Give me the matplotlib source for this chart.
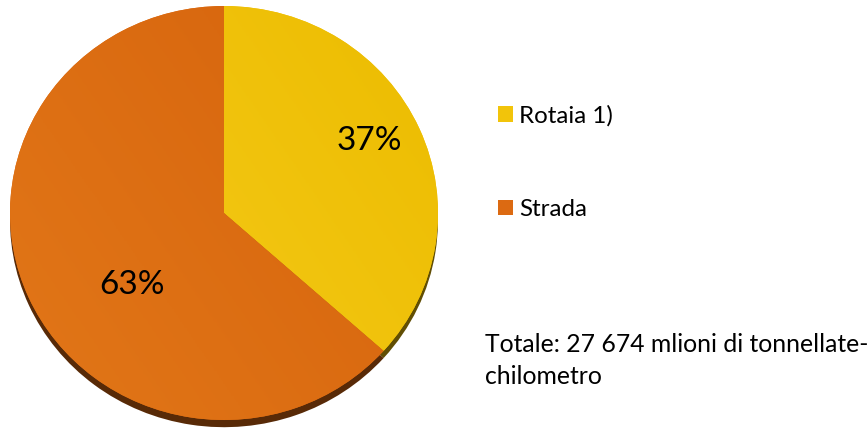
import numpy as np
import matplotlib
matplotlib.use("Agg")
import matplotlib.pyplot as plt
from matplotlib.colors import LinearSegmentedColormap

plt.rcParams['font.family'] = ['Lato', 'DejaVu Sans']

# data
categories = ["Rotaia 1)", "Strada"]
shares = [36.6, 63.4]
colors = ["#F2C40A", "#DC6A12"]
grad_light = ["#F7CD1F", "#E27718"]
grad_dark = ["#ECBC00", "#D5620C"]
total_note = "Totale: 27 674 mlioni di tonnellate-\nchilometro"

W, H = 867, 432
fig = plt.figure(figsize=(W / 100, H / 100), dpi=100)
ax = fig.add_axes([0, 0, 1, 1])

# pie centre / radii in pixels
cx, cy = 224, 432 - 213
rx, ry = 214, 207

wedges, texts, autotexts = ax.pie(
    shares, colors=colors, startangle=90, counterclock=False,
    autopct='%.0f%%', pctdistance=0.7,
    shadow={'ox': 0, 'oy': -0.025, 'shade': 0.6, 'alpha': 1},
    textprops={'fontsize': 24, 'color': 'black'},
    wedgeprops={'linewidth': 0})

ax.set_aspect('auto')
ax.axis('off')

# soft gradient inside each slice
gx = np.linspace(0, 1, 200)
grad = (gx[None, :] * 0.6 + gx[::-1, None] * 0.4)
for w, c0, c1 in zip(wedges, grad_light, grad_dark):
    cmap = LinearSegmentedColormap.from_list("g", [c0, c1])
    im = ax.imshow(grad, cmap=cmap, extent=(-1, 1, -1, 1), origin='upper',
                   aspect='auto', zorder=1.5, interpolation='bilinear')
    im.set_clip_path(w)

ax.set_xlim(-cx / rx, (W - cx) / rx)
ax.set_ylim(-cy / ry, (H - cy) / ry)

# percentage label positions (pixels from top-left)
label_px = [(369, 141), (132, 285)]
for t, (px, py) in zip(autotexts, label_px):
    t.set_position(((px - cx) / rx, ((H - py) - cy) / ry))
    t.set_zorder(3)
    t.set_ha('center')
    t.set_va('center')

leg = ax.legend(wedges, categories, loc='upper left', frameon=False,
                bbox_to_anchor=(498 / W, 1 - 105 / H), bbox_transform=fig.transFigure,
                fontsize=17.4, handlelength=0.62, handleheight=0.62,
                handletextpad=0.25, labelspacing=3.0, borderpad=0, borderaxespad=0)

fig.text(485 / W, 1 - 333 / H, total_note, fontsize=17.8, va='top', ha='left',
         linespacing=1.45)

fig.savefig("out.png", dpi=100)
